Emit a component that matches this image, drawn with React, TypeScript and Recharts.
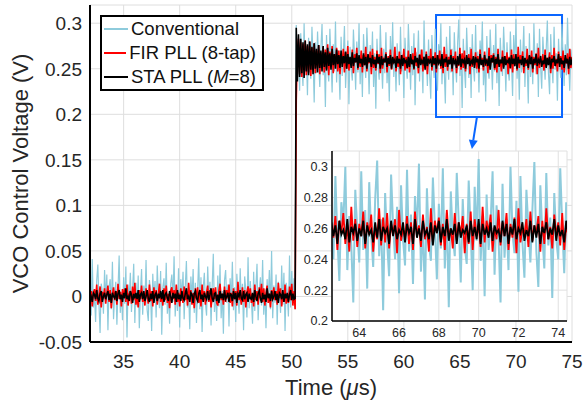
import React from 'react';
import {
  LineChart,
  Line,
  XAxis,
  YAxis,
  CartesianGrid,
  Legend,
  ReferenceArea,
  ReferenceLine,
} from 'recharts';

const FONT = '"Liberation Sans", Arial, Helvetica, sans-serif';

// sampling of the traces (microseconds) and the first sample after the step
const SAMPLE_US = 0.1;
const STEP_TIME_US = 50.4;

// ---- series values, in mV ----
// Conventional PLL
const convBefore = [
  8, -15, 22, -33, 10, 27, -6, -21, 41, -12,
  3, -28, 18, 35, -9, -40, 14, 6, -19, 29,
  -4, 24, -37, 11, 19, -14, 38, -25, 2, 16,
  -31, 9, 45, -18, 5, -26, 21, -8, 33, -45,
  13, -2, 26, -17, 7, 36, -29, 15, -11, 23,
  -35, 4, 30, -20, 12, -7, 40, -15, -27, 18,
  6, -38, 25, -3, 17, -23, 34, 1, -13, 28,
  -42, 10, 20, -9, 37, -19, 3, -30, 14, 24,
  -6, 44, -22, 8, -16, 31, -34, 19, -1, 27,
  -25, 11, 39, -12, 5, -36, 22, -4, 30, -18,
  15, -29, 7, 42, -14, 21, -39, 9, 26, -8,
  -21, 33, -2, 16, -32, 12, 47, -17, 4, -27,
  23, -11, 35, -24, 6, -41, 18, 29, -7, 13,
  -33, 20, -5, 38, -15, 10, -28, 25, 2, -19,
  31, -9, 14, -37, 22, 7, -23, 43, -13, 17,
  -4, -30, 27, -16, 11, 36, -26, 5, 21, -10,
  40, -20, 8, -35, 19, -3, 29, -14, 50, -24,
  12, -7, 24, -31, 16, 3, -18, 34, -9, 26,
  -38, 15, 6, -22, 45, -12, 28, -5, 20, -14,
];
const convAfter = [
  298, 241, 276, 226, 289, 255, 231, 300, 248, 268,
  221, 284, 252, 239, 296, 262, 213, 279, 245, 291,
  258, 230, 273, 299, 243, 265, 208, 287, 250, 236,
  294, 261, 224, 277, 247, 302, 235, 270, 254, 216,
  285, 242, 266, 297, 229, 259, 281, 211, 274, 251,
  237, 293, 263, 227, 280, 246, 300, 233, 269, 219,
  288, 256, 240, 295, 264, 222, 276, 249, 291, 230,
  267, 206, 283, 253, 238, 298, 260, 228, 272, 245,
  290, 234, 262, 214, 286, 250, 301, 241, 270, 225,
  278, 257, 232, 296, 247, 266, 218, 284, 255, 239,
  299, 264, 227, 275, 243, 289, 210, 268, 252, 292,
  236, 271, 258, 223, 303, 248, 265, 231, 282, 244,
  217, 287, 260, 240, 294, 254, 226, 277, 263, 300,
  233, 268, 249, 212, 285, 259, 238, 297, 246, 272,
  221, 290, 256, 235, 279, 304, 242, 266, 207, 283,
  251, 229, 295, 262, 240, 274, 218, 288, 253, 236,
  298, 245, 269, 224, 281, 257, 302, 232, 263, 214,
  286, 250, 239, 293, 261, 227, 276, 247, 299, 234,
  270, 209, 284, 255, 242, 296, 264, 225, 279, 248,
  237, 291, 258, 220, 287, 252, 305, 239, 268, 216,
  282, 246, 263, 297, 230, 275, 254, 212, 289, 241,
  266, 233, 300, 257, 244, 278, 219, 294, 251, 228,
  285, 260, 238, 272, 303, 245, 222, 288, 256, 234,
  296, 249, 267, 215, 283, 253, 240, 299, 262, 231,
  277, 243, 306, 258, 226, 271, 250, 292, 210, 265,
];
// FIR PLL, 8-tap
const firBefore = [
  5, -7, 10, 2, -8, 12, -3, 6, -11, 4,
  8, -5, 13, -9, 1, 11, -12, 5, -2, 9,
  -8, 3, 12, -6, 7, -13, 2, 10, -4, 6,
  -9, 14, -3, 5, -11, 8, -1, 9, -6, 13,
  -10, 3, 6, -8, 11, -4, 15, -9, 2, -12,
  7, -3, 12, -6, 4, -10, 9, 0, -8, 13,
  -5, 6, -11, 10, -2, 7, -9, 3, 14, -6,
  2, -10, 9, -4, 12, -7, 3, -13, 6, 10,
  -3, 7, -9, 13, -6, 4, -11, 9, 0, -7,
  11, -4, 6, -10, 15, -3, 7, -9, 4, -13,
  9, -2, 10, -7, 3, -11, 13, -4, 6, -9,
  4, 12, -6, 7, -12, 2, 9, -3, 10, -7,
  -10, 6, 14, -4, 3, -9, 11, -6, 7, -2,
  13, -7, 4, -11, 9, -3, 6, -10, 16, -4,
  2, -9, 10, -6, 7, -12, 4, 11, -3, 9,
  -7, 3, -11, 13, -4, 6, -9, 10, -2, 14,
  -6, 9, -10, 4, 12, -7, 3, -12, 7, -3,
  10, -4, 6, -9, 15, -2, 9, -11, 4, -6,
  13, -8, 3, -7, 11, -4, 14, -10, 6, -14,
];
const firAfter = [
  215, 272, 283, 244, 279, 241, 277, 248, 281, 243,
  275, 246, 280, 242, 273, 249, 278, 245, 270, 251,
  276, 244, 268, 253, 274, 246, 271, 250, 277, 243,
  269, 252, 275, 245, 266, 255, 273, 247, 270, 244,
  264, 256, 272, 246, 268, 250, 275, 248, 262, 254,
  271, 245, 266, 257, 273, 249, 263, 252, 270, 246,
  265, 254, 274, 247, 261, 256, 269, 244, 272, 251,
  263, 248, 270, 255, 266, 245, 273, 250, 260, 257,
  268, 246, 264, 253, 271, 249, 262, 256, 274, 247,
  261, 252, 269, 244, 265, 255, 272, 248, 263, 250,
  270, 246, 262, 257, 267, 249, 273, 253, 260, 245,
  266, 255, 271, 247, 263, 251, 269, 244, 264, 256,
  272, 248, 261, 254, 268, 246, 265, 257, 270, 250,
  262, 245, 274, 252, 266, 248, 263, 255, 271, 247,
  264, 256, 269, 245, 261, 253, 273, 249, 267, 251,
  270, 247, 263, 256, 266, 244, 272, 252, 260, 254,
  268, 250, 264, 246, 271, 255, 262, 248, 269, 253,
  261, 245, 273, 251, 265, 257, 267, 249, 263, 246,
  272, 254, 260, 247, 270, 252, 264, 256, 268, 244,
  263, 250, 271, 246, 266, 255, 262, 248, 274, 251,
  265, 257, 269, 245, 261, 253, 272, 249, 264, 255,
  270, 246, 263, 254, 267, 244, 273, 251, 260, 256,
  266, 248, 271, 252, 262, 257, 268, 245, 265, 250,
  273, 253, 261, 247, 269, 255, 264, 249, 270, 246,
  262, 256, 267, 244, 272, 251, 263, 254, 268, 248,
];
// STA PLL, M=8
const staBefore = [
  3, -2, 5, -4, 2, 6, -3, 0, -6, 4,
  2, -3, 7, -2, -5, 3, 6, -6, 0, 4,
  -3, 2, 6, -4, 3, -7, 4, 0, -2, 6,
  -5, 3, 7, -3, 2, -6, 4, -2, 9, -3,
  0, -5, 6, 2, -7, 3, -2, 4, -3, 7,
  -6, 2, 4, -3, 6, -5, 0, 7, -2, -6,
  3, -3, 6, -7, 2, 4, -5, 3, -2, 6,
  -3, 7, -6, 2, 4, -2, -5, 6, 0, -7,
  4, -2, 3, -6, 7, -3, 2, -5, 6, -2,
  -4, 3, 9, -3, 0, -6, 4, 2, -7, 3,
  6, -2, -5, 3, 7, -3, 2, -6, 4, 0,
  -3, 6, -4, 2, 9, -2, -6, 3, 4, -5,
  2, -7, 6, -2, 3, -4, 7, -3, 0, 4,
  -6, 3, 2, -5, 6, -3, 4, -7, 3, 0,
  7, -2, -4, 6, -3, 2, 4, -6, 3, -2,
  -3, 4, -6, 7, 0, -5, 3, 6, -2, -7,
  4, -3, 2, -6, 9, -2, 3, -5, 6, -3,
  0, 6, -4, 3, -7, 4, 2, -3, 7, -6,
  3, -2, 4, -6, 2, 7, -4, 3, -3, -2,
];
const staAfter = [
  295, 236, 288, 241, 283, 245, 279, 240, 281, 247,
  277, 243, 280, 249, 274, 244, 278, 250, 272, 246,
  276, 251, 270, 247, 275, 252, 268, 248, 273, 253,
  267, 249, 272, 254, 266, 250, 271, 255, 265, 251,
  270, 252, 264, 256, 269, 250, 266, 255, 263, 251,
  268, 253, 262, 257, 267, 251, 265, 256, 261, 252,
  267, 254, 263, 250, 266, 257, 262, 252, 265, 255,
  260, 251, 266, 256, 263, 250, 264, 254, 261, 257,
  266, 252, 262, 255, 265, 250, 263, 257, 260, 251,
  264, 256, 261, 250, 265, 253, 262, 257, 259, 251,
  263, 252, 266, 255, 260, 250, 264, 257, 262, 251,
  265, 254, 259, 256, 263, 249, 266, 253, 261, 257,
  260, 252, 264, 255, 262, 250, 265, 256, 259, 253,
  266, 251, 261, 257, 263, 252, 260, 255, 265, 250,
  262, 256, 259, 251, 264, 254, 266, 252, 261, 257,
  260, 250, 265, 255, 262, 253, 259, 256, 264, 251,
  263, 257, 261, 250, 266, 254, 260, 252, 265, 256,
  259, 253, 264, 249, 262, 257, 265, 251, 261, 255,
  266, 252, 260, 256, 263, 250, 264, 254, 259, 257,
  262, 251, 265, 255, 261, 253, 266, 250, 263, 256,
  260, 254, 264, 252, 262, 257, 259, 251, 265, 255,
  263, 250, 261, 256, 266, 253, 260, 257, 264, 252,
  259, 255, 265, 251, 262, 254, 263, 250, 261, 257,
  264, 253, 260, 256, 266, 252, 262, 255, 259, 251,
  265, 256, 261, 250, 263, 254, 260, 257, 264, 253,
];

const seriesNames = ['Conventional', 'FIR PLL (8-tap)', 'STA PLL (M=8)'];
const seriesColors = ['#8ecbdc', '#ff0000', '#000000'];

// axes
const xDomain: [number, number] = [32, 75];
const yDomain: [number, number] = [-0.05, 0.32];
const xTicks = [35, 40, 45, 50, 55, 60, 65, 70, 75];
const yTicks = [-0.05, 0, 0.05, 0.1, 0.15, 0.2, 0.25, 0.3];

// zoom window (main axes) and inset axes
const zoomBox = { x1: 62.87, x2: 74.11, y1: 0.197, y2: 0.309 };
const arrowSeg = [
  { x: 66.52, y: 0.197 },
  { x: 66.07, y: 0.1619 },
];
const insetXDomain: [number, number] = [62.63, 74.44];
const insetYDomain: [number, number] = [0.2, 0.3102];
const insetXTicks = [64, 66, 68, 70, 72, 74];
const insetYTicks = [0.2, 0.22, 0.24, 0.26, 0.28, 0.3];

function toSeries(before: number[], after: number[], dt: number) {
  const pts: { t: number; v: number }[] = [];
  before.forEach((mv, i) =>
    pts.push({ t: +(STEP_TIME_US - dt * (before.length - i)).toFixed(3), v: mv / 1000 })
  );
  after.forEach((mv, i) =>
    pts.push({ t: +(STEP_TIME_US + dt * i).toFixed(3), v: mv / 1000 })
  );
  return pts;
}

const convData = toSeries(convBefore, convAfter, SAMPLE_US);
const firData = toSeries(firBefore, firAfter, SAMPLE_US);
const staData = toSeries(staBefore, staAfter, SAMPLE_US);
const allData = [convData, firData, staData];

function renderName(name: string) {
  const m = name.match(/^(.*\()M(=.*)$/);
  if (m) {
    return (
      <>
        {m[1]}
        <i>M</i>
        {m[2]}
      </>
    );
  }
  return name;
}

const LegendBox = (props: any) => {
  const payload = props.payload || [];
  return (
    <div
      style={{
        border: '2px solid #000',
        background: '#fff',
        padding: '0 6px 0 2px',
        fontFamily: FONT,
        fontSize: 18.5,
        color: '#111',
        boxSizing: 'border-box',
        width: 164,
      }}
    >
      {payload.map((e: any, i: number) => (
        <div key={i} style={{ display: 'flex', alignItems: 'center', height: 24 }}>
          <span
            style={{
              display: 'inline-block',
              width: 24,
              height: 2,
              background: e.color,
              marginRight: 3,
            }}
          />
          <span style={{ whiteSpace: 'nowrap' }}>{renderName(String(e.value))}</span>
        </div>
      ))}
    </div>
  );
};

const XTitle = (props: any) => {
  const vb = props.viewBox || { x: 90, y: 342, width: 482, height: 30 };
  return (
    <text
      x={vb.x + vb.width / 2}
      y={vb.y + 53}
      textAnchor="middle"
      fontSize={22}
      fontFamily={FONT}
      fill="#262626"
    >
      Time (<tspan fontStyle="italic">μ</tspan>s)
    </text>
  );
};

const YTitle = (props: any) => {
  const vb = props.viewBox || { x: 30, y: 5, width: 60, height: 337 };
  const cx = vb.x - 10;
  const cy = vb.y + vb.height / 2;
  return (
    <text
      x={cx}
      y={cy}
      transform={`rotate(-90 ${cx} ${cy})`}
      textAnchor="middle"
      dominantBaseline="central"
      fontSize={22}
      fontFamily={FONT}
      fill="#262626"
    >
      VCO Control Voltage (V)
    </text>
  );
};

const Arrow = (p: any) => {
  const { x1, y1, x2, y2 } = p;
  const dx = x2 - x1;
  const dy = y2 - y1;
  const len = Math.hypot(dx, dy) || 1;
  const ux = dx / len;
  const uy = dy / len;
  const hl = 9;
  const hw = 4.5;
  const bx = x2 - ux * hl;
  const by = y2 - uy * hl;
  return (
    <g>
      <line x1={x1} y1={y1} x2={bx} y2={by} stroke="#0a66ff" strokeWidth={2} />
      <polygon
        points={`${x2},${y2} ${bx - uy * hw},${by + ux * hw} ${bx + uy * hw},${by - ux * hw}`}
        fill="#0a66ff"
      />
    </g>
  );
};

const tickStyle = { fill: '#262626', fontSize: 19, fontFamily: FONT };
const insetTickStyle = { fill: '#262626', fontSize: 12.5, fontFamily: FONT };
const mainWidths = [1.2, 1.6, 1.6];
const insetWidths = [2, 1.8, 1.8];

export default function App() {
  return (
    <div
      style={{
        position: 'absolute',
        left: 0,
        top: 0,
        width: 583,
        height: 408,
        background: '#fff',
        fontFamily: FONT,
      }}
    >
      <div style={{ position: 'absolute', left: 0, top: 0 }}>
        <LineChart width={583} height={408} margin={{ top: 5, right: 11, bottom: 36, left: 30 }}>
          <CartesianGrid stroke="#dedede" strokeWidth={1} />
          <XAxis
            dataKey="t"
            type="number"
            domain={xDomain}
            ticks={xTicks}
            allowDataOverflow
            height={30}
            tickSize={0}
            tickMargin={13}
            tickLine={false}
            axisLine={{ stroke: '#000', strokeWidth: 2 }}
            tick={tickStyle}
            label={XTitle}
          />
          <YAxis
            type="number"
            domain={yDomain}
            ticks={yTicks}
            allowDataOverflow
            width={60}
            tickSize={0}
            tickMargin={8}
            tickLine={false}
            axisLine={{ stroke: '#000', strokeWidth: 2 }}
            tick={tickStyle}
            label={YTitle}
          />
          <XAxis xAxisId="xt" orientation="top" mirror type="number" domain={xDomain} ticks={xTicks}
            allowDataOverflow height={0} tick={false} tickSize={5}
            tickLine={{ stroke: '#000' }} axisLine={{ stroke: '#000', strokeWidth: 2 }} />
          <XAxis xAxisId="xb" orientation="bottom" mirror type="number" domain={xDomain} ticks={xTicks}
            allowDataOverflow height={0} tick={false} tickSize={5}
            tickLine={{ stroke: '#000' }} axisLine={false} />
          <YAxis yAxisId="yl" orientation="left" mirror type="number" domain={yDomain} ticks={yTicks}
            allowDataOverflow width={0} tick={false} tickSize={5}
            tickLine={{ stroke: '#000' }} axisLine={false} />
          <YAxis yAxisId="yr" orientation="right" mirror type="number" domain={yDomain} ticks={yTicks}
            allowDataOverflow width={0} tick={false} tickSize={5}
            tickLine={{ stroke: '#000' }} axisLine={{ stroke: '#000', strokeWidth: 2 }} />
          {allData.map((d, i) => (
            <Line
              key={seriesNames[i]}
              data={d}
              dataKey="v"
              name={seriesNames[i]}
              type="linear"
              stroke={seriesColors[i]}
              strokeWidth={mainWidths[i]}
              dot={false}
              activeDot={false}
              isAnimationActive={false}
            />
          ))}
          <ReferenceArea
            x1={zoomBox.x1}
            x2={zoomBox.x2}
            y1={zoomBox.y1}
            y2={zoomBox.y2}
            fill="none"
            fillOpacity={0}
            stroke="#0a66ff"
            strokeWidth={2}
            ifOverflow="visible"
          />
          <ReferenceLine segment={arrowSeg} shape={Arrow} ifOverflow="visible" />
          <Legend
            layout="vertical"
            align="center"
            verticalAlign="middle"
            content={LegendBox}
            wrapperStyle={{ left: 100, top: 15, width: 'auto', height: 'auto', margin: 0, padding: 0 }}
          />
        </LineChart>
      </div>

      <div style={{ position: 'absolute', left: 290, top: 145 }}>
        <LineChart width={290} height={200} margin={{ top: 6, right: 13, bottom: 4, left: 2 }}>
          <CartesianGrid stroke="#e0e0e0" strokeWidth={1} fill="#ffffff" fillOpacity={1} />
          <XAxis
            dataKey="t"
            type="number"
            domain={insetXDomain}
            ticks={insetXTicks}
            allowDataOverflow
            height={20}
            tickSize={0}
            tickMargin={7}
            tickLine={false}
            axisLine={{ stroke: '#000', strokeWidth: 1.5 }}
            tick={insetTickStyle}
          />
          <YAxis
            type="number"
            domain={insetYDomain}
            ticks={insetYTicks}
            allowDataOverflow
            width={40}
            tickSize={0}
            tickMargin={4}
            tickLine={false}
            axisLine={{ stroke: '#000', strokeWidth: 1.5 }}
            tick={insetTickStyle}
          />
          <XAxis xAxisId="xt" orientation="top" mirror type="number" domain={insetXDomain} ticks={insetXTicks}
            allowDataOverflow height={0} tick={false} tickSize={3}
            tickLine={{ stroke: '#000' }} axisLine={{ stroke: '#000', strokeWidth: 1.5 }} />
          <XAxis xAxisId="xb" orientation="bottom" mirror type="number" domain={insetXDomain} ticks={insetXTicks}
            allowDataOverflow height={0} tick={false} tickSize={3}
            tickLine={{ stroke: '#000' }} axisLine={false} />
          <YAxis yAxisId="yl" orientation="left" mirror type="number" domain={insetYDomain} ticks={insetYTicks}
            allowDataOverflow width={0} tick={false} tickSize={3}
            tickLine={{ stroke: '#000' }} axisLine={false} />
          <YAxis yAxisId="yr" orientation="right" mirror type="number" domain={insetYDomain} ticks={insetYTicks}
            allowDataOverflow width={0} tick={false} tickSize={3}
            tickLine={{ stroke: '#000' }} axisLine={{ stroke: '#000', strokeWidth: 1.5 }} />
          {allData.map((d, i) => (
            <Line
              key={seriesNames[i]}
              data={d}
              dataKey="v"
              name={seriesNames[i]}
              type="linear"
              stroke={seriesColors[i]}
              strokeWidth={insetWidths[i]}
              dot={false}
              activeDot={false}
              isAnimationActive={false}
            />
          ))}
        </LineChart>
      </div>
    </div>
  );
}
